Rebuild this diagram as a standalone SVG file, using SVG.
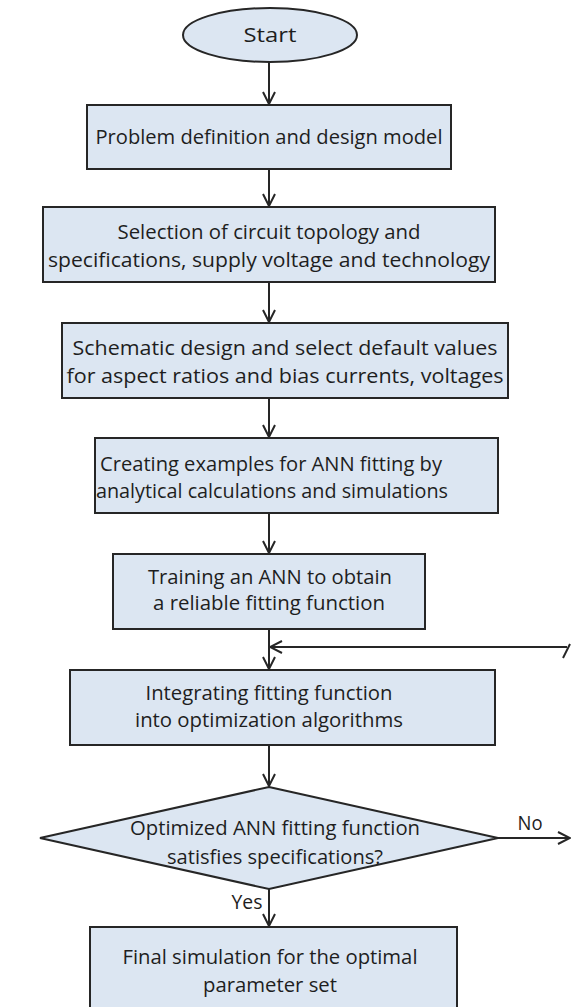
<svg xmlns="http://www.w3.org/2000/svg" width="571" height="1007" viewBox="0 0 571 1007">
<style>
.n{fill:#dce6f2;stroke:#262626;stroke-width:2}
.t{font-family:"Open Sans","Liberation Sans",sans-serif;font-size:19.5px;fill:#1e1e1e;text-anchor:middle}
.c{fill:none;stroke:#262626;stroke-width:2}
</style>
<defs>
<marker id="ah" viewBox="0 0 14 14" refX="13" refY="7" markerWidth="14" markerHeight="14" markerUnits="userSpaceOnUse" orient="auto">
<path d="M1,1 L13,7 L1,13" fill="none" stroke="#262626" stroke-width="2"/>
</marker>
</defs>
<rect width="571" height="1007" fill="#fff"/>
<g id="start"><ellipse class="n" cx="270" cy="35" rx="87" ry="27"/><text class="t" x="270" y="42" textLength="53" lengthAdjust="spacingAndGlyphs">Start</text></g>
<g id="problem"><rect class="n" x="87" y="105" width="364" height="64"/><text class="t" x="269" y="144" textLength="347" lengthAdjust="spacingAndGlyphs">Problem definition and design model</text></g>
<g id="selection"><rect class="n" x="43" y="207" width="452" height="75"/><text class="t" x="269" y="239" textLength="303" lengthAdjust="spacingAndGlyphs">Selection of circuit topology and</text><text class="t" x="269" y="267" textLength="442" lengthAdjust="spacingAndGlyphs">specifications, supply voltage and technology</text></g>
<g id="schematic"><rect class="n" x="62" y="323" width="446" height="75"/><text class="t" x="285" y="355" textLength="425" lengthAdjust="spacingAndGlyphs">Schematic design and select default values</text><text class="t" x="285" y="383" textLength="437" lengthAdjust="spacingAndGlyphs">for aspect ratios and bias currents, voltages</text></g>
<g id="examples"><rect class="n" x="95" y="438" width="403" height="75"/><text class="t" x="271" y="471" textLength="342" lengthAdjust="spacingAndGlyphs">Creating examples for ANN fitting by</text><text class="t" x="272" y="498" textLength="352" lengthAdjust="spacingAndGlyphs">analytical calculations and simulations</text></g>
<g id="training"><rect class="n" x="113" y="554" width="312" height="75"/><text class="t" x="270" y="584" textLength="244" lengthAdjust="spacingAndGlyphs">Training an ANN to obtain</text><text class="t" x="269" y="610" textLength="232" lengthAdjust="spacingAndGlyphs">a reliable fitting function</text></g>
<g id="integrating"><rect class="n" x="70" y="670" width="425" height="75"/><text class="t" x="269" y="700" textLength="247" lengthAdjust="spacingAndGlyphs">Integrating fitting function</text><text class="t" x="269" y="727" textLength="268" lengthAdjust="spacingAndGlyphs">into optimization algorithms</text></g>
<g id="decision"><polygon class="n" points="269,787 498,838 269,889 40,838"/><text class="t" x="275" y="835" textLength="290" lengthAdjust="spacingAndGlyphs">Optimized ANN fitting function</text><text class="t" x="275" y="864" textLength="216" lengthAdjust="spacingAndGlyphs">satisfies specifications?</text></g>
<g id="final"><rect class="n" x="90" y="927" width="367" height="90"/><text class="t" x="270" y="964" textLength="295" lengthAdjust="spacingAndGlyphs">Final simulation for the optimal</text><text class="t" x="270" y="992" textLength="134" lengthAdjust="spacingAndGlyphs">parameter set</text></g>
<g id="connectors">
<line class="c" x1="269" y1="62" x2="269" y2="104" marker-end="url(#ah)"/>
<line class="c" x1="269" y1="169" x2="269" y2="206" marker-end="url(#ah)"/>
<line class="c" x1="269" y1="282" x2="269" y2="322" marker-end="url(#ah)"/>
<line class="c" x1="269" y1="398" x2="269" y2="437" marker-end="url(#ah)"/>
<line class="c" x1="269" y1="513" x2="269" y2="553" marker-end="url(#ah)"/>
<line class="c" x1="269" y1="629" x2="269" y2="669" marker-end="url(#ah)"/>
<line class="c" x1="269" y1="745" x2="269" y2="786" marker-end="url(#ah)"/>
<line class="c" x1="269" y1="889" x2="269" y2="926" marker-end="url(#ah)"/>
<line class="c" x1="498" y1="838" x2="570" y2="838" marker-end="url(#ah)"/>
<line class="c" x1="567" y1="647" x2="270" y2="647" marker-end="url(#ah)"/>
<line class="c" x1="563" y1="658" x2="570" y2="644"/>
<text class="t" x="530" y="830" textLength="25" lengthAdjust="spacingAndGlyphs">No</text>
<text class="t" x="247" y="909" textLength="31" lengthAdjust="spacingAndGlyphs">Yes</text>
</g>
</svg>
